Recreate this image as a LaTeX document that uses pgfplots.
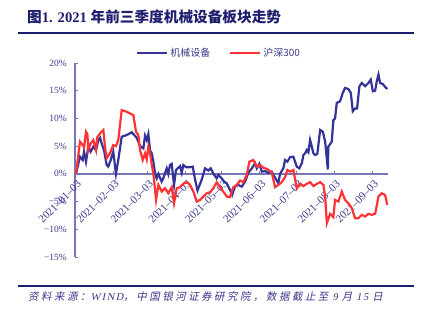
\documentclass[border=0pt]{standalone}
\usepackage{fontspec}
\setmainfont{Liberation Serif}
\newfontfamily\cjk{Noto Sans CJK SC}
\newfontfamily\cjkit[FakeSlant=0.2, LetterSpace=24]{Noto Sans CJK SC}
\newfontfamily\latit[LetterSpace=14, FakeSlant=0.2]{Liberation Serif}
\usepackage{pgfplots}
\pgfplotsset{compat=1.18}
\definecolor{navy}{RGB}{51,51,153}
\definecolor{myred}{RGB}{255,51,51}
\definecolor{axcol}{RGB}{118,118,184}
\definecolor{txtcol}{RGB}{55,55,140}
\definecolor{titlecol}{RGB}{30,30,110}

\pgfplotstableread{
d v
0.8 0
4.1 3.1
6.3 2.5
7.4 4.0
9.0 2.2
10.9 4.9
12.8 4.0
15.0 4.9
17.2 4.3
19.1 6.1
20.5 6.5
21.8 5.5
23.7 4.3
25.9 1.6
27.2 1.3
29.2 2.5
31.3 4.0
33.5 0
35.4 2.5
38.2 6.7
42.3 7.0
46.4 7.5
50.5 6.5
53.2 5.0
55.9 4.6
57.3 6.9
58.7 6.1
60.0 7.2
61.4 4.2
62.8 3.7
64.1 2.2
65.5 0
66.8 -0.8
68.2 0
70.9 -1.4
72.2 -0.8
75.0 1.0
76.3 0
77.7 1.6
79.1 1.8
81.0 -2.0
82.6 0.7
85.9 1.4
87.3 0.2
88.6 1.6
90.8 1.2
94.1 1.2
96.3 1.3
98.2 -1.0
100.2 -3.0
103.7 -1.0
106.4 1.0
109.1 0.6
111.0 1.0
113.2 0
115.9 -0.8
117.2 -0.2
120.0 -0.8
121.9 -1.4
124.1 -1.7
126.8 -2.9
128.5 -3.8
130.9 -2.3
133.6 -2.0
136.4 -2.3
139.1 -1.4
141.8 0.2
144.6 1.0
147.3 1.9
148.7 1.0
150.8 1.8
152.8 0.4
155.5 0.5
158.2 0.2
160.9 0.4
162.8 -0.4
165.5 -1.4
166.3 -1.7
167.7 0.0
170.4 1.0
171.8 2.5
173.7 2.2
175.9 3.0
178.6 3.1
181.4 1.3
183.5 1.0
185.5 1.9
186.8 3.4
188.2 3.7
189.6 4.3
190.9 3.9
192.3 6.1
193.7 4.9
195.0 3.7
196.4 3.4
198.2 3.6
200.5 7.9
202.7 7.6
204.6 5.8
206.8 0.8
207.2 4.9
210.0 5.8
211.3 9.7
212.7 10.0
214.1 12.8
216.8 13.1
219.0 14.6
220.9 15.5
223.6 15.3
225.6 14.6
227.2 11.3
229.1 11.8
230.7 11.8
232.6 15.8
234.6 16.4
237.3 15.8
240.0 16.4
241.9 17.0
243.6 14.9
245.5 15.0
246.8 16.7
248.2 17.9
249.5 16.4
251.8 16.2
253.6 15.7
255.5 15.3
}\jixie

\pgfplotstableread{
d v
0.8 0
4.1 5.8
6.3 5.2
7.4 4.8
9.0 7.6
10.1 7.2
10.9 4.3
12.8 5.5
15.0 6.1
17.2 4.3
18.2 6.6
20.5 7.3
21.8 7.6
23.2 7.9
24.5 4.9
25.9 2.8
28.6 3.7
31.3 5.2
33.5 5.0
35.4 6.1
38.2 11.5
42.3 11.2
47.7 10.6
49.9 7.6
51.8 7.0
53.2 4.3
55.4 2.5
57.3 3.7
58.7 2.6
60.0 4.9
61.4 3.7
62.8 1.6
64.1 0
65.5 -2.9
66.3 -4.7
68.2 -2.0
70.9 -3.2
73.6 -2.6
76.3 -3.5
79.1 -2.4
81.0 -5.3
83.2 -2.6
85.9 -2.4
88.6 -1.8
91.4 -1.5
94.1 -2.0
96.8 -3.2
99.6 -5.0
102.3 -4.7
105.0 -4.1
107.8 -3.5
110.5 -3.3
113.2 -2.6
115.9 -1.5
118.6 -2.4
121.3 -3.2
124.1 -4.1
126.8 -4.2
129.5 -2.4
132.3 -2.0
135.0 -1.2
137.7 -1.5
140.5 -0.2
142.6 2.2
145.9 2.5
148.7 1.3
151.4 1.6
154.1 1.1
156.8 0.9
160.9 0.3
163.6 -2.4
166.3 -2.0
169.1 -1.5
171.8 -0.6
173.7 0.7
175.9 0.4
178.6 0.7
181.4 -2.6
184.1 -1.8
186.8 -2.2
189.6 -1.8
192.3 -1.5
195.0 -2.2
197.8 -1.8
200.5 -1.5
203.2 -2.0
204.6 -4.1
206.0 -8.9
208.7 -7.2
211.3 -7.8
212.7 -4.7
215.4 -5.0
218.2 -3.2
220.9 -4.7
223.6 -5.3
226.4 -6.2
229.1 -8.0
231.8 -8.0
234.6 -7.4
237.3 -7.7
240.0 -7.2
242.7 -7.4
245.5 -7.2
248.2 -4.1
250.9 -3.5
253.6 -3.8
255.5 -5.6
}\hushen

\begin{document}
\begin{tikzpicture}
\useasboundingbox (-75bp,-67bp) rectangle (353bp,257bp);
\begin{axis}[
  at={(0,0)}, anchor=south west,
  scale only axis, width=313bp, height=194bp,
  xmin=0, xmax=256, ymin=-15, ymax=20,
  axis x line=middle, axis y line=left,
  hide obscured x ticks=false, hide obscured y ticks=false,
  axis line style={-, draw=axcol, line width=1.3bp},
  tick align=inside, major tick length=3bp,
  every tick/.style={draw=axcol, line width=0.8bp},
  xtick={0,31,59,90,120,151,181,212,243},
  xticklabels={2021\textendash01\textendash03,2021\textendash02\textendash03,2021\textendash03\textendash03,2021\textendash04\textendash03,2021\textendash05\textendash03,2021\textendash06\textendash03,2021\textendash07\textendash03,2021\textendash08\textendash03,2021\textendash09\textendash03},
  ytick={-15,-10,-5,0,5,10,15,20},
  yticklabels={−15\%,−10\%,−5\%,0\%,5\%,10\%,15\%,20\%},
  ticklabel style={font=\fontsize{9.5}{10}\selectfont, text=txtcol},
  xticklabel style={rotate=45, anchor=east, inner sep=0pt, yshift=-9bp, xshift=-3bp, font=\fontsize{11}{12}\selectfont},
  yticklabel style={anchor=east, inner sep=0pt, xshift=-8bp},
  legend style={at={(0.195,1.0515)}, anchor=west, draw=none, fill=none, inner sep=0pt,
    font=\fontsize{10}{12}\selectfont, text=txtcol,
    /tikz/every even column/.append style={column sep=17bp}},
  legend columns=2,
  legend image code/.code={\draw[#1] (0bp,0bp) -- (30bp,0bp);},
]
\addplot[navy, line width=2.2bp, no markers] table[x=d, y=v] {\jixie};
\addlegendentry{\cjk 机械设备}
\addplot[myred, line width=2.2bp, no markers] table[x=d, y=v] {\hushen};
\addlegendentry{\cjk 沪深300}
\end{axis}
\node[anchor=west, text=titlecol, font=\fontsize{14.7}{16}\selectfont\bfseries, inner sep=0pt] at (-48bp,240bp) {{\cjk 图}1. 2021 {\cjk 年前三季度机械设备板块走势}};
\draw[titlecol, line width=1.5bp] (-57bp,224bp) -- (339bp,224bp);
\draw[titlecol, line width=1.5bp] (-57bp,-29bp) -- (339bp,-29bp);
\node[anchor=west, text=txtcol, font=\fontsize{10.5}{12}\selectfont, inner sep=0pt] at (-47bp,-40bp) {{\cjkit 资料来源：}{\latit WIND}{\cjkit ，中国银河证券研究院，数据截止至}{\latit\ 9 }{\cjkit 月}{\latit\ 15 }{\cjkit 日}};
\end{tikzpicture}
\end{document}
